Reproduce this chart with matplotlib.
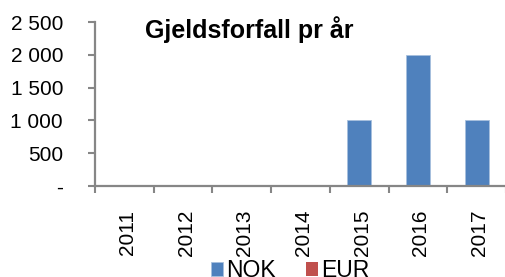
import numpy as np
import matplotlib.pyplot as plt
from matplotlib.ticker import FuncFormatter

plt.rcParams['font.family'] = ['Liberation Sans', 'DejaVu Sans']

years = ['2011', '2012', '2013', '2014', '2015', '2016', '2017']
nok = [0, 0, 0, 0, 1000, 2000, 1000]
eur = [0, 0, 0, 0, 0, 0, 0]

W, H = 506, 277
fig = plt.figure(figsize=(W / 100, H / 100), dpi=100)
ax = fig.add_axes([95 / W, 91 / H, 411 / W, 164 / H])

x = np.arange(len(years))
ax.bar(x, nok, width=0.41, color='#4F81BD', edgecolor='#A7C0DE', linewidth=0.6, label='NOK')
ax.bar(x, eur, width=0.41, color='#C0504D', linewidth=0, label='EUR')

ax.set_xlim(-0.5, len(years) - 0.5)
ax.set_ylim(0, 2500)
ax.set_yticks([0, 500, 1000, 1500, 2000, 2500])

def fmt(v, pos):
    if v == 0:
        return '-'
    return '{:,.0f}'.format(v).replace(',', ' ')
ax.yaxis.set_major_formatter(FuncFormatter(fmt))

# tick marks sit on the category boundaries, labels on the centres
ax.set_xticks(np.arange(len(years) + 1) - 0.5)
ax.set_xticklabels([])
ax.set_xticks(x + 0.05, minor=True)
ax.set_xticklabels(years, minor=True, rotation=90, fontsize=15)
ax.tick_params(axis='x', which='minor', length=0, pad=17)
ax.tick_params(axis='x', which='major', length=5, width=1.5, color='#868686', direction='out')
ax.tick_params(axis='y', length=5, width=1.5, color='#868686', labelsize=15, pad=18)

for s in ['top', 'right']:
    ax.spines[s].set_visible(False)
for s in ['left', 'bottom']:
    ax.spines[s].set_color('#868686')
    ax.spines[s].set_linewidth(1.6)

fig.text(145 / W, 1 - 38 / H, 'Gjeldsforfall pr år', fontsize=18, fontweight='bold', va='baseline', ha='left')

fig.legend(loc='upper center', bbox_to_anchor=(290 / W, 1 - 259 / H), ncol=2, frameon=False,
           fontsize=16.5, handlelength=0.52, handleheight=0.52, handletextpad=0.15,
           columnspacing=1.3, borderpad=0, borderaxespad=0)

fig.savefig('out.png', dpi=100)
